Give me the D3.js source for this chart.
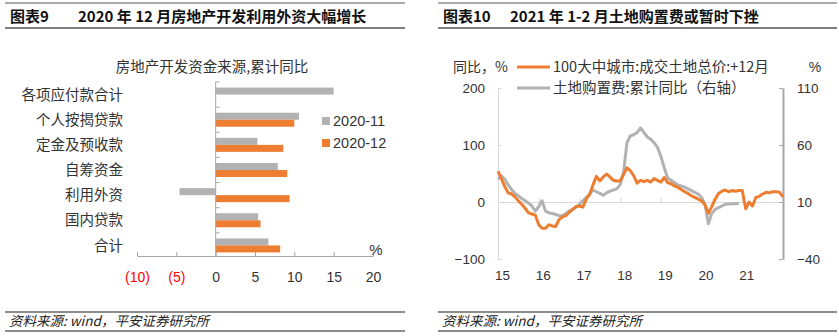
<!DOCTYPE html>
<html>
<head>
<meta charset="utf-8">
<script src="https://cdn.jsdelivr.net/npm/d3@7/dist/d3.min.js"></script>
<style>
  body { margin: 0; background: #fff; }
  svg text { font-family: "Liberation Sans", Arial, "Noto Sans CJK SC", sans-serif; }
  .cjk { font-family: "Noto Sans CJK SC", "Liberation Sans", sans-serif; }
</style>
</head>
<body>
<div id="viz"></div>
<script>

// ---- data: left chart (bar) ----
var barCats = ["各项应付款合计", "个人按揭贷款", "定金及预收款", "自筹资金", "利用外资", "国内贷款", "合计"];
var nov2020 = [15.0, 10.6, 5.3, 7.9, -4.6, 5.4, 6.7];
var dec2020 = [null, 10.0, 8.6, 9.1, 9.4, 5.7, 8.2];
var barTicks = [-10, -5, 0, 5, 10, 15, 20];

// ---- data: right chart (lines), monthly from 2015-01 ----
var yearLabels = ["15", "16", "17", "18", "19", "20", "21"];
var landDeal = [54, 41, 27, 16, 14, 9, 2, -4, -11, -19, -21, -23, -40, -46, -46, -40, -42, -43, -31, -26,
  -24, -18, -13, -8, -7, -9, 5, 13, 30, 45, 37, 44, 49, 44, 38, 37, 37, 48, 60, 55,
  46, 33, 38, 36, 38, 35, 41, 38, 35, 43, 34, 32, 28, 26, 22, 18, 15, 11, 8, 5,
  2, -5, -20, -8, 5, 15, 19, 21, 18, 20, 19, 20, 20, -12, 0, -7, 8, 10, 14, 17,
  16, 18, 18, 17, 9];
var landCost = [30, 33, 30, 25, 21, 17.5, 15.5, 13, 11, 9, 6.5, 2, 6, 11, 2, 0.5, 0, -1, -2, -2,
  0, 2, 3.5, 5.5, 8, 11, 14, 17, 20.5, 19, 17.5, 16, 18, 19.5, 20.5, 21.5, 25, 36, 62, 68,
  69, 71, 75, 71, 67, 65, 62, 58, 50, 40, 31, 29, 27, 25, 24, 23, 21.5, 20, 18.5, 17,
  14, 8, -9, 0, 3.5, 5, 6.5, 8, 8.3, 8.5, 8.5, 8.6];

var ORANGE = "#ED7D31";
var GRAY = "#B2B2B2";
var TXT = "#333";

var svg = d3.select("#viz").append("svg")
  .attr("width", 839)
  .attr("height", 336);

// header + footer rules for both panels
function panelFrame(x0, x1, tag, tagX, title, titleX)
{
  svg.append("line").attr("x1", x0).attr("x2", x1).attr("y1", 3).attr("y2", 3)
    .style("stroke", "#555").style("stroke-width", 1);
  svg.append("line").attr("x1", x0).attr("x2", x1).attr("y1", 28).attr("y2", 28)
    .style("stroke", "#7f7f7f").style("stroke-width", 2);
  svg.append("text").attr("class", "cjk").attr("x", tagX).attr("y", 22)
    .style("font-size", "15px").style("font-weight", "bold").style("fill", "#111").text(tag);
  svg.append("text").attr("class", "cjk").attr("x", titleX).attr("y", 22)
    .style("font-size", "15px").style("font-weight", "bold").style("fill", "#111").text(title);

  svg.append("line").attr("x1", x0).attr("x2", x1).attr("y1", 312).attr("y2", 312)
    .style("stroke", "#8c8c8c").style("stroke-width", 2);
  svg.append("line").attr("x1", x0).attr("x2", x1).attr("y1", 331).attr("y2", 331)
    .style("stroke", "#8c8c8c").style("stroke-width", 2);
  svg.append("text").attr("class", "cjk").attr("x", x0 + 4).attr("y", 326)
    .style("font-size", "13.5px").style("font-style", "italic").style("fill", "#222")
    .text("资料来源: wind，平安证券研究所");
}

panelFrame(5, 405, "图表9", 10, "2020 年 12 月房地产开发利用外资大幅增长", 78);
panelFrame(438, 837, "图表10", 443, "2021 年 1-2 月土地购置费或暂时下挫", 510);

// ================= left: bar chart =================
var bx = d3.scaleLinear().domain([-10, 20]).range([137, 373]);
var by = d3.scaleBand().domain(barCats).range([82, 258]);
var barH = 7;

svg.append("text").attr("class", "cjk").attr("x", 212).attr("y", 72)
  .attr("text-anchor", "middle").style("font-size", "14.5px").style("fill", TXT)
  .text("房地产开发资金来源,累计同比");

var gBars = svg.append("g");
gBars.selectAll("rect.nov").data(barCats).enter().append("rect")
  .attr("x", function(d, i) { return bx(Math.min(0, nov2020[i])); })
  .attr("y", function(d) { return by(d) + by.bandwidth() / 2 - barH; })
  .attr("width", function(d, i) { return Math.abs(bx(nov2020[i]) - bx(0)); })
  .attr("height", barH)
  .style("fill", GRAY);
gBars.selectAll("rect.dec").data(barCats.filter(function(d, i) { return dec2020[i] !== null; }))
  .enter().append("rect")
  .attr("x", function(d) { var v = dec2020[barCats.indexOf(d)]; return bx(Math.min(0, v)); })
  .attr("y", function(d) { return by(d) + by.bandwidth() / 2; })
  .attr("width", function(d) { var v = dec2020[barCats.indexOf(d)]; return Math.abs(bx(v) - bx(0)); })
  .attr("height", barH)
  .style("fill", ORANGE);

// x axis
var bxAxis = svg.append("g").attr("transform", "translate(0,256)")
  .call(d3.axisBottom(bx).tickValues(barTicks).tickSize(-4).tickSizeOuter(0).tickPadding(16)
    .tickFormat(function(d) { return d < 0 ? "(" + (-d) + ")" : d; }));
bxAxis.select(".domain").style("stroke", "#a6a6a6");
bxAxis.selectAll(".tick line").style("stroke", "#a6a6a6");
bxAxis.selectAll(".tick text").style("font-size", "14px")
  .style("fill", function(d) { return d < 0 ? "#ff0000" : TXT; });

// y axis (ticks at category boundaries)
svg.append("line").attr("x1", bx(0)).attr("x2", bx(0)).attr("y1", 82).attr("y2", 256)
  .style("stroke", "#a6a6a6");
svg.selectAll("line.ytk").data(barCats).enter().append("line")
  .attr("x1", bx(0)).attr("x2", bx(0) + 4)
  .attr("y1", function(d) { return by(d); }).attr("y2", function(d) { return by(d); })
  .style("stroke", "#a6a6a6");
svg.selectAll("text.cat").data(barCats).enter().append("text")
  .attr("class", "cjk")
  .attr("x", 123)
  .attr("y", function(d) { return by(d) + by.bandwidth() / 2; })
  .attr("dy", "0.35em")
  .attr("text-anchor", "end")
  .style("font-size", "14.5px").style("fill", TXT)
  .text(function(d) { return d; });

svg.append("text").attr("x", 376).attr("y", 255).attr("text-anchor", "middle")
  .style("font-size", "15px").style("fill", TXT).text("%");

// legend
var barLegend = [["2020-11", GRAY], ["2020-12", ORANGE]];
barLegend.forEach(function(l, i) {
  var yy = 121 + i * 22;
  svg.append("rect").attr("x", 322).attr("y", yy - 4).attr("width", 8).attr("height", 8).style("fill", l[1]);
  svg.append("text").attr("x", 333).attr("y", yy).attr("dy", "0.36em")
    .style("font-size", "14.5px").style("fill", TXT).text(l[0]);
});

// ================= right: line chart =================
var lx = d3.scaleLinear().domain([0, 84]).range([498, 783]);
var lyL = d3.scaleLinear().domain([-100, 200]).range([259, 88]);
var lyR = d3.scaleLinear().domain([-40, 110]).range([259, 88]);

// zero line with year ticks
var xAx = svg.append("g").attr("transform", "translate(0," + lyL(0) + ")")
  .call(d3.axisBottom(lx).tickValues(d3.range(0, 84, 12)).tickSize(-4).tickSizeOuter(0)
    .tickPadding(68).tickFormat(function(d, i) { return yearLabels[i]; }));
xAx.select(".domain").style("stroke", "#d9d9d9");
xAx.selectAll(".tick line").style("stroke", "#d9d9d9");
xAx.selectAll(".tick text").attr("dx", 4).style("font-size", "13.5px").style("fill", TXT);

var lAx = svg.append("g").attr("transform", "translate(498,0)")
  .call(d3.axisLeft(lyL).tickValues([-100, 0, 100, 200]).tickSize(-4).tickSizeOuter(0).tickPadding(13));
lAx.select(".domain").style("stroke", "#d9d9d9");
lAx.selectAll(".tick line").style("stroke", "#d9d9d9");
lAx.selectAll(".tick text").style("font-size", "13.5px").style("fill", TXT);

var rAx = svg.append("g").attr("transform", "translate(783,0)")
  .call(d3.axisRight(lyR).tickValues([-40, 10, 60, 110]).tickSize(-4).tickSizeOuter(0).tickPadding(14));
rAx.select(".domain").style("stroke", "#a6a6a6").style("stroke-width", 2);
rAx.selectAll(".tick line").style("stroke", "#a6a6a6");
rAx.selectAll(".tick text").style("font-size", "13.5px").style("fill", TXT);

var lineL = d3.line().x(function(d, i) { return lx(i); }).y(function(d) { return lyL(d); });
var lineR = d3.line().x(function(d, i) { return lx(i); }).y(function(d) { return lyR(d); });

svg.append("path").datum(landCost).attr("d", lineR)
  .style("fill", "none").style("stroke", GRAY).style("stroke-width", 3).style("stroke-linejoin", "round");
svg.append("path").datum(landDeal).attr("d", lineL)
  .style("fill", "none").style("stroke", ORANGE).style("stroke-width", 3).style("stroke-linejoin", "round");

// legend + unit labels
svg.append("text").attr("class", "cjk").attr("x", 453).attr("y", 67).attr("dy", "0.36em")
  .style("font-size", "14px").style("fill", TXT).text("同比，%");
svg.append("text").attr("x", 815).attr("y", 67).attr("dy", "0.36em").attr("text-anchor", "middle")
  .style("font-size", "14px").style("fill", TXT).text("%");

var lineLegend = [["100大中城市:成交土地总价:+12月", ORANGE], ["土地购置费:累计同比（右轴）", GRAY]];
lineLegend.forEach(function(l, i) {
  var yy = 67 + i * 21;
  svg.append("line").attr("x1", 517).attr("x2", 550).attr("y1", yy).attr("y2", yy)
    .style("stroke", l[1]).style("stroke-width", 3);
  svg.append("text").attr("class", "cjk").attr("x", 553).attr("y", yy).attr("dy", "0.36em")
    .style("font-size", "14.5px").style("fill", TXT).text(l[0]);
});

</script>
</body>
</html>
